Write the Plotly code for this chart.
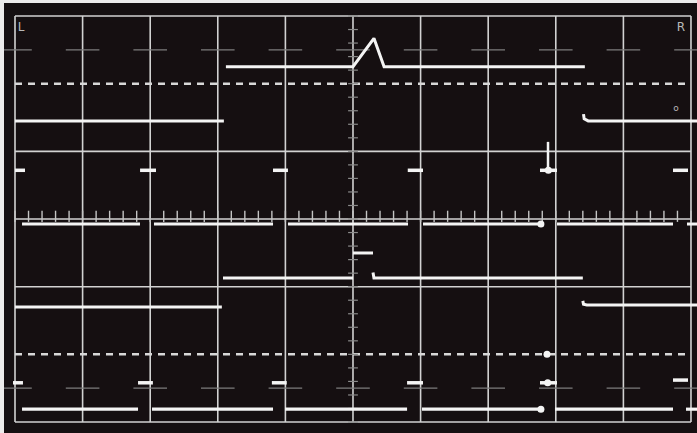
import numpy as np
import plotly.graph_objects as go

# ---- graticule (in screen divisions) ----
grid_x = list(range(0, 11))
grid_y_solid = [-3, -1, 0, 1, 3]
grid_y_dashed = [2, -2]
marker_rows = [2.5, -2.5]

# ---- traces (x in divisions, y in divisions) ----
a_x = [3.12, 5.00, 5.31, 5.46, 8.43]
a_y = [2.25, 2.25, 2.67, 2.25, 2.25]

b_x = [0.00, 3.09, None, 8.41, 8.42, 8.48, 10.09]
b_y = [1.45, 1.45, None, 1.55, 1.48, 1.45, 1.45]

c_start = [0.00, 1.85, 3.817, 5.81, 7.766, 9.734]
c_end = [0.148, 2.086, 4.038, 6.036, 8.018, 9.956]
c_level = [0.72, 0.72, 0.72, 0.72, 0.72, 0.72]
spike_x = [7.885, 7.885]
spike_y = [0.72, 1.14]

d_start = [0.104, 2.056, 4.038, 6.036, 8.018, 9.941]
d_end = [1.849, 3.817, 5.814, 7.796, 9.734, 10.09]
d_level = [-0.074] * 6

e_x = [3.077, 5.00, None, 5.00, 5.296, None, 5.296, 5.31, 8.40]
e_y = [-0.872, -0.872, None, -0.502, -0.502, None, -0.79, -0.872, -0.872]

f_x = [0.00, 3.06, None, 8.40, 8.41, 8.46, 10.09]
f_y = [-1.30, -1.30, None, -1.21, -1.26, -1.27, -1.27]

g_start = [-0.03, 1.82, 3.80, 5.80, 7.766, 9.734]
g_end = [0.118, 2.04, 4.02, 6.036, 8.018, 9.956]
g_level = [-2.42, -2.42, -2.42, -2.42, -2.42, -2.38]

h_start = [0.104, 2.027, 3.994, 6.021, 7.988, 9.926]
h_end = [1.82, 3.817, 5.80, 7.796, 9.734, 10.09]
h_level = [-2.81] * 6

blob_x = [7.78, 7.78, 7.89, 7.88, 7.87]
blob_y = [-0.074, -2.81, 0.72, -2.42, -2.0]

labels = ["L", "R", "o"]
label_x = [0.09, 9.85, 9.78]
label_y = [2.82, 2.82, 1.63]

BG = "#150f11"
GRID = "#d2d2d2"
TRACE = "#f4f4f4"


def segs(starts, ends, levels):
    xs, ys = [], []
    for s, e, l in zip(starts, ends, levels):
        xs += [s, e, None]
        ys += [l, l, None]
    return xs, ys


fig = go.Figure()

# solid graticule lines (vertical + horizontal), confined to the frame
gvx, gvy = [], []
for xv in grid_x:
    gvx += [xv, xv, None]
    gvy += [grid_y_solid[0], grid_y_solid[-1], None]
for yv in grid_y_solid:
    gvx += [grid_x[0], grid_x[-1], None]
    gvy += [yv, yv, None]
fig.add_trace(go.Scatter(x=gvx, y=gvy, mode="lines", line=dict(color=GRID, width=1.6)))

# dashed graticule lines
for yv in grid_y_dashed:
    fig.add_trace(go.Scatter(x=[grid_x[0], grid_x[-1]], y=[yv, yv], mode="lines",
                             line=dict(color="#d8d8d8", width=2.5, dash="7px,6px")))

# faint short marks at +/-2.5 on each vertical line
for yv in marker_rows:
    fig.add_trace(go.Scatter(x=grid_x, y=[yv] * len(grid_x), mode="markers",
                             marker=dict(symbol="line-ew-open", size=24, color="#7c7c7c",
                                         line=dict(color="#7c7c7c", width=1.3))))

# minor ticks on centre horizontal line
mx = np.round(np.arange(0, 10.001, 0.2), 3)
fig.add_trace(go.Scatter(x=mx, y=[0.04] * len(mx), mode="markers",
                         marker=dict(symbol="line-ns-open", size=8, color="#c4c4c4",
                                     line=dict(color="#c4c4c4", width=1.4))))
# minor ticks on centre vertical line
my = np.round(np.arange(-3, 3.001, 0.2), 3)
fig.add_trace(go.Scatter(x=[5] * len(my), y=my, mode="markers",
                         marker=dict(symbol="line-ew-open", size=7, color="#8a8a8a",
                                     line=dict(color="#8a8a8a", width=1.2))))

line_style = dict(color=TRACE, width=3)
fig.add_trace(go.Scatter(x=a_x, y=a_y, mode="lines", line=line_style))
fig.add_trace(go.Scatter(x=b_x, y=b_y, mode="lines", line=line_style, connectgaps=False))
cx, cy = segs(c_start, c_end, c_level)
fig.add_trace(go.Scatter(x=cx, y=cy, mode="lines", line=dict(color=TRACE, width=3.5)))
fig.add_trace(go.Scatter(x=spike_x, y=spike_y, mode="lines", line=dict(color=TRACE, width=2.5)))
dx, dy = segs(d_start, d_end, d_level)
fig.add_trace(go.Scatter(x=dx, y=dy, mode="lines", line=line_style))
fig.add_trace(go.Scatter(x=e_x, y=e_y, mode="lines", line=line_style))
fig.add_trace(go.Scatter(x=f_x, y=f_y, mode="lines", line=line_style))
gx, gy = segs(g_start, g_end, g_level)
fig.add_trace(go.Scatter(x=gx, y=gy, mode="lines", line=dict(color=TRACE, width=3.5)))
hx, hy = segs(h_start, h_end, h_level)
fig.add_trace(go.Scatter(x=hx, y=hy, mode="lines", line=dict(color=TRACE, width=3.2)))
fig.add_trace(go.Scatter(x=blob_x, y=blob_y, mode="markers",
                         marker=dict(color=TRACE, size=7, symbol="circle")))

fig.add_trace(go.Scatter(x=label_x, y=label_y, mode="text", text=labels,
                         textfont=dict(color="#b8b8b8", size=[12, 12, 9],
                                       family="DejaVu Sans")))

fig.update_layout(
    width=697, height=433,
    margin=dict(l=4, r=0, t=3, b=0),
    paper_bgcolor="#ecebeb",
    plot_bgcolor=BG,
    showlegend=False,
    hovermode=False,
    xaxis=dict(range=[-0.1627, 10.089], showticklabels=False, ticks="",
               showgrid=False, zeroline=False, showline=False, fixedrange=True),
    yaxis=dict(range=[-3.162, 3.192], showticklabels=False, ticks="",
               showgrid=False, zeroline=False, showline=False, fixedrange=True),
)

fig.write_html("out.html", config={"displayModeBar": False},
               post_script="document.body.style.margin='0';document.body.style.overflow='hidden';")
